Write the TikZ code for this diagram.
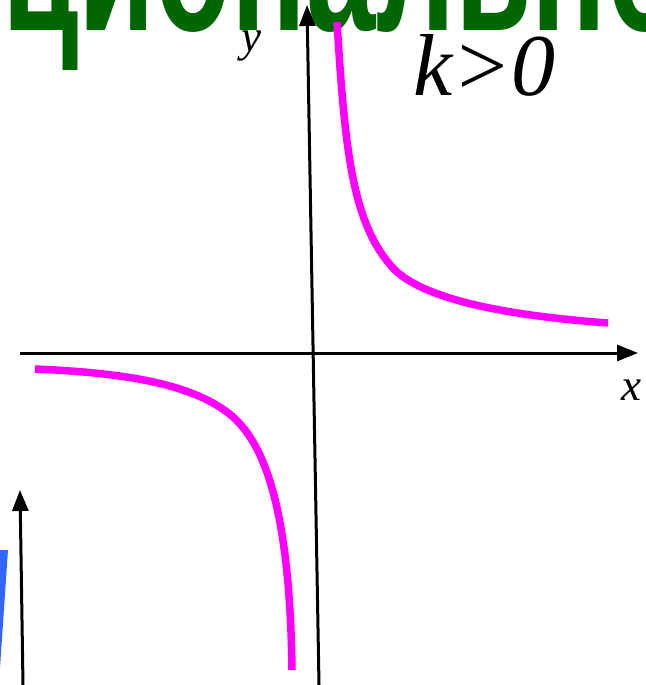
\documentclass[tikz,border=0pt]{standalone}
\usepackage{graphicx}
\usepackage{fontspec}
\setmainfont{Liberation Serif}
\newfontfamily\headfont{Liberation Sans}
\usetikzlibrary{arrows.meta}
\definecolor{wordgreen}{RGB}{0,102,0}
\definecolor{curvepink}{RGB}{255,0,255}
\definecolor{blockblue}{RGB}{51,102,255}
\newcommand{\tallword}[1]{\scalebox{0.93}[1.5]{#1}}
\tikzset{
  axis/.style={black,line width=3pt,-{Triangle[length=21pt,width=16pt]}},
  branch/.style={curvepink,line width=7.5pt},
  headword/.style={inner sep=0pt,text=wordgreen,font=\headfont\bfseries\fontsize{134}{134}\selectfont},
  axislab/.style={inner sep=0pt,font=\itshape\fontsize{45}{45}\selectfont},
  caselab/.style={inner sep=0pt,font=\itshape\fontsize{88}{88}\selectfont},
}

\begin{document}
\begin{tikzpicture}[x=1pt,y=-1pt]
  \path[use as bounding box] (0,0) rectangle (645,685);
  \clip (0,0) rectangle (645,685);

  \node[headword,anchor=base west] (word) at (2,31) {\tallword{ционально}};
  \fill[blockblue] (0,550) -- (8,550) -- (0,668) -- cycle;

  \coordinate (xleft) at (20,353);
  \coordinate (xtip) at (638,353);
  \coordinate (yfoot) at (319,685);
  \coordinate (ytip) at (307,5);
  \coordinate (sidefoot) at (23,685);
  \coordinate (sidetip) at (20,490);

  % the two branches
  \draw[branch] (337,22) .. controls (345,150) and (352,222) .. (392,267)
    .. controls (420,298) and (500,315) .. (608,323);
  \draw[branch] (35,369) .. controls (130,373) and (195,385) .. (232,416)
    .. controls (268,447) and (290,520) .. (292,670);

  \draw[axis] (xleft) -- (xtip);
  \draw[axis] (yfoot) -- (ytip);
  \draw[axis] (sidefoot) -- (sidetip);

  \node[axislab,anchor=base west] (ylab) at (241,52) {y};
  \node[axislab,anchor=base west] (xlab) at (621,400) {x};
  \node[caselab,anchor=base west] (kcase) at (413,95) {k>0};
\end{tikzpicture}
\end{document}
